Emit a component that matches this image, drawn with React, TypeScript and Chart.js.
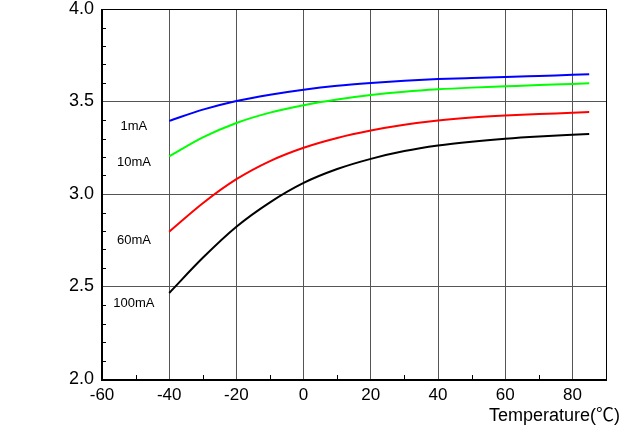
import React, { useEffect, useRef } from "react";
import { Chart, registerables } from "chart.js";
Chart.register(...registerables);

const temps = [-40, -30, -20, -10, 0, 10, 20, 30, 40, 50, 60, 70, 80, 85];
const v1mA = [3.395, 3.456, 3.503, 3.537, 3.564, 3.585, 3.6, 3.612, 3.621, 3.627, 3.632, 3.638, 3.644, 3.647];
const v10mA = [3.203, 3.306, 3.384, 3.44, 3.48, 3.511, 3.535, 3.553, 3.566, 3.575, 3.582, 3.589, 3.595, 3.598];
const v60mA = [2.796, 2.95, 3.08, 3.178, 3.25, 3.303, 3.343, 3.374, 3.397, 3.413, 3.424, 3.432, 3.439, 3.443];
const v100mA = [2.465, 2.655, 2.823, 2.955, 3.06, 3.135, 3.19, 3.232, 3.262, 3.283, 3.299, 3.311, 3.32, 3.324];

const seriesNames = ["1mA", "10mA", "60mA", "100mA"];
const seriesColors = ["#0000ff", "#00ff00", "#ff0000", "#000000"];
const labelX = [-50.5, -50.5, -50.5, -50.5];
const labelY = [3.365, 3.168, 2.751, 2.411];

const xTicks = [-60, -40, -20, 0, 20, 40, 60, 80];
const yTicks = [2.0, 2.5, 3.0, 3.5, 4.0];
const xMinor = [-50, -30, -10, 10, 30, 50, 70, 90];
const yMinor = [2.1, 2.2, 2.3, 2.4, 2.6, 2.7, 2.8, 2.9, 3.1, 3.2, 3.3, 3.4, 3.6, 3.7, 3.8, 3.9];
const xTitle = "Temperature(℃)";

const FONT = "'Liberation Sans', Arial, sans-serif";
const TITLE_FONT = "'Liberation Sans', 'Noto Sans CJK SC', sans-serif";

export default function App() {
  const ref = useRef<HTMLCanvasElement>(null);
  useEffect(() => {
    if (!ref.current) return;
    const values = [v1mA, v10mA, v60mA, v100mA];
    const overlay = {
      id: "overlay",
      afterDraw(chart: any) {
        const ctx = chart.ctx;
        const { left, right, top, bottom } = chart.chartArea;
        const xs = chart.scales.x;
        const ys = chart.scales.y;
        ctx.save();
        ctx.strokeStyle = "#000";
        ctx.lineWidth = 1;
        ctx.beginPath();
        yMinor.forEach((v) => {
          const y = Math.round(ys.getPixelForValue(v)) + 0.5;
          ctx.moveTo(left, y);
          ctx.lineTo(left + 4, y);
        });
        xMinor.forEach((v) => {
          const x = Math.round(xs.getPixelForValue(v)) + 0.5;
          ctx.moveTo(x, bottom);
          ctx.lineTo(x, bottom - 4);
        });
        ctx.stroke();
        ctx.lineWidth = 1;
        ctx.beginPath();
        ctx.moveTo(left, top + 0.5);
        ctx.lineTo(right, top + 0.5);
        ctx.moveTo(right + 0.5, top);
        ctx.lineTo(right + 0.5, bottom);
        ctx.stroke();
        ctx.lineWidth = 2;
        ctx.beginPath();
        ctx.moveTo(left, top);
        ctx.lineTo(left, bottom + 1);
        ctx.lineTo(right + 1, bottom + 1);
        ctx.stroke();
        ctx.fillStyle = "#000";
        ctx.font = "13px " + FONT;
        ctx.textAlign = "center";
        ctx.textBaseline = "middle";
        seriesNames.forEach((n, i) => {
          ctx.fillText(n, xs.getPixelForValue(labelX[i]), ys.getPixelForValue(labelY[i]));
        });
        ctx.font = "18px " + TITLE_FONT;
        ctx.textAlign = "right";
        ctx.textBaseline = "alphabetic";
        ctx.fillText(xTitle, right + 14, bottom + 42);
        ctx.restore();
      },
    };
    const chart = new Chart(ref.current, {
      type: "line",
      data: {
        datasets: seriesNames.map((n, i) => ({
          label: n,
          data: temps.map((t, j) => ({ x: t, y: values[i][j] })),
          borderColor: seriesColors[i],
          backgroundColor: seriesColors[i],
          borderWidth: 2,
          pointRadius: 0,
          cubicInterpolationMode: "monotone" as const,
          fill: false,
        })),
      },
      options: {
        animation: false,
        responsive: false,
        layout: { padding: { top: 9, right: 30, left: 0, bottom: 0 } },
        plugins: { legend: { display: false }, tooltip: { enabled: false } },
        scales: {
          x: {
            type: "linear",
            min: -60,
            max: 90,
            afterBuildTicks: (s: any) => {
              s.ticks = xTicks.map((v) => ({ value: v }));
            },
            afterFit: (s: any) => {
              s.height = 47;
              s.paddingLeft = 0;
              s.paddingRight = 0;
            },
            grid: { color: "#555", lineWidth: 1, drawTicks: false },
            border: { display: false },
            ticks: {
              color: "#000",
              font: { size: 17, family: FONT },
              padding: 6,
              maxRotation: 0,
              autoSkip: false,
            },
          },
          y: {
            type: "linear",
            min: 2,
            max: 4,
            afterBuildTicks: (s: any) => {
              s.ticks = yTicks.map((v) => ({ value: v }));
            },
            afterFit: (s: any) => {
              s.width = 102;
              s.paddingTop = 0;
              s.paddingBottom = 0;
            },
            grid: { color: "#555", lineWidth: 1, drawTicks: false },
            border: { display: false },
            ticks: {
              color: "#000",
              font: { size: 18, family: FONT },
              padding: 8,
              callback: (v: any) => Number(v).toFixed(1),
            },
          },
        },
      },
      plugins: [overlay],
    });
    return () => chart.destroy();
  }, []);
  return (
    <canvas
      ref={ref}
      width={636}
      height={426}
      style={{ position: "absolute", left: 0, top: 0, background: "#fff" }}
    />
  );
}
